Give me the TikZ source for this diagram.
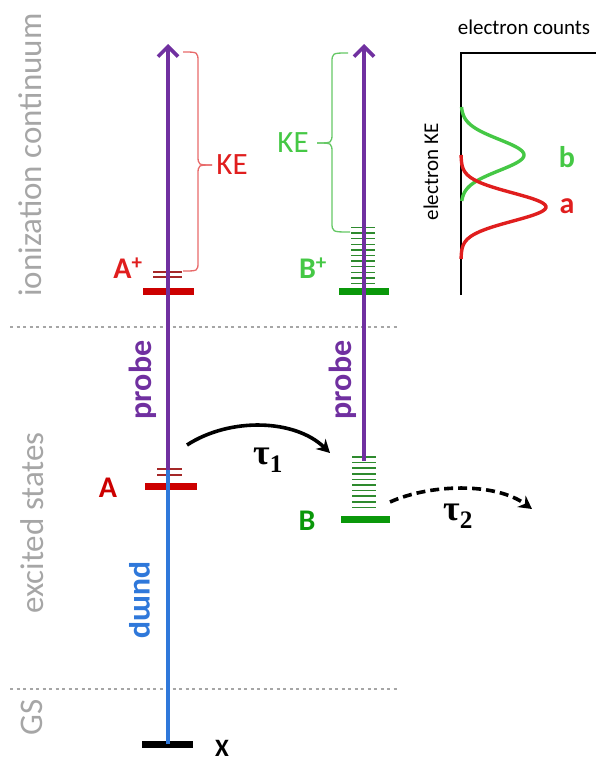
\documentclass[tikz,border=0pt]{standalone}
\usepackage{fontspec}
\setmainfont{Carlito}
\newfontfamily\taufont{Liberation Serif}
\usetikzlibrary{arrows.meta}
\definecolor{cpurple}{HTML}{7030A0}
\definecolor{cblue}{HTML}{2F78DA}
\definecolor{cred}{HTML}{E01E1E}
\definecolor{cdred}{HTML}{CC0000}
\definecolor{csub}{HTML}{A52828}
\definecolor{cbrr}{HTML}{E86A6A}
\definecolor{cgreen}{HTML}{45C845}
\definecolor{cdgreen}{HTML}{0A980A}
\definecolor{cgsub}{HTML}{2E8A2E}
\definecolor{cbrg}{HTML}{66C866}
\definecolor{cgray}{HTML}{A6A6A6}
\newcommand\myfs[1]{\fontsize{#1}{#1}\selectfont}
\begin{document}
\begin{tikzpicture}[x=1pt,y=-1pt,
  lvl/.style={line width=7pt},
  sublvl/.style={line width=1.5pt},
  probearrow/.style={cpurple,line width=3.6pt,-{Straight Barb[length=10pt,width=20pt,line width=3.6pt]}},
  pumpline/.style={cblue,line width=3.2pt},
  sidelabel/.style={cgray,rotate=90,font=\myfs{33}},
  beamlabel/.style={font=\myfs{32}\bfseries},
  statelabel/.style={font=\myfs{30}\bfseries},
  sep/.style={cgray,line width=2.8pt,dash pattern=on 3pt off 3.5pt},
  bracket/.style={line width=1.3pt},
  decay/.style={black,line width=3.6pt,-{Stealth[length=13pt,width=14pt]}},
  curve/.style={line width=3.4pt,smooth}]
\useasboundingbox (0,0) rectangle (595,763);
% separators
\draw[sep] (10,327) -- (400,327);
\draw[sep] (10,689) -- (400,689);
% side labels
\node[sidelabel] (ion) at (30,155) {ionization continuum};
\node[sidelabel] (exc) at (32,523) {excited states};
\node[sidelabel] (gs) at (32,717) {GS};
% coordinates
\coordinate (Xl) at (142,744); \coordinate (Xr) at (193,744);
\coordinate (Al) at (145,486); \coordinate (Ar) at (197,486);
\coordinate (Apl) at (143,291); \coordinate (Apr) at (194,291);
\coordinate (Bl) at (341,519); \coordinate (Br) at (390,519);
\coordinate (Bpl) at (339,291); \coordinate (Bpr) at (389,291);
\coordinate (Xc) at (168,744);
\coordinate (Atop) at (168,470);
\coordinate (Lend) at (168,44);
\coordinate (Btop) at (364,461);
\coordinate (Rend) at (364,44);
% levels
\draw[lvl,black] (Xl) -- (Xr);
\draw[lvl,cdred] (Al) -- (Ar);
\draw[lvl,cdred] (Apl) -- (Apr);
\draw[lvl,cdgreen] (Bl) -- (Br);
\draw[lvl,cdgreen] (Bpl) -- (Bpr);
% sublevels
\draw[sublvl,csub] (157,469) -- (182,469) (157,475) -- (182,475);
\draw[sublvl,csub] (153,272) -- (182,272) (153,277) -- (182,277);
\foreach \i in {0,...,9} \draw[sublvl,cgsub] (352,457+5.6*\i) -- (376,457+5.6*\i);
\foreach \i in {0,...,10} \draw[sublvl,cgsub] (351,227.5+5.6*\i) -- (375,227.5+5.6*\i);
% beams
\draw[pumpline] (Xc) -- (Atop);
\draw[probearrow] (Atop) -- (Lend);
\draw[probearrow] (Btop) -- (Rend);
% beam labels
\node[beamlabel,cpurple,rotate=90] (probeA) at (143,380) {probe};
\node[beamlabel,cpurple,rotate=90] (probeB) at (343,380) {probe};
\node[beamlabel,cblue,rotate=-90] (pump) at (140,600) {pump};
% state labels
\node[statelabel,cdred] (lA) at (108,488) {A};
\node[statelabel,cred] (lAp) at (128,268) {A\textsuperscript{+}};
\node[statelabel,cdgreen] (lB) at (307,521) {B};
\node[statelabel,cgreen] (lBp) at (313,268) {B\textsuperscript{+}};
\node[font=\myfs{25}\bfseries] (lX) at (222,748) {X};
% KE brackets
\draw[bracket,cbrr] (183,52) .. controls (198,52) .. (198,62) -- (198,155) .. controls (198,165) .. (212,165);
\draw[bracket,cbrr] (212,165) .. controls (198,165) .. (198,175) -- (198,262) .. controls (198,271) .. (183,271);
\node[font=\myfs{31},cred] (keA) at (232,165) {KE};
\draw[bracket,cbrg] (348,53) .. controls (332,53) .. (332,63) -- (332,133) .. controls (332,143) .. (317,143);
\draw[bracket,cbrg] (317,143) .. controls (332,143) .. (332,153) -- (332,222) .. controls (332,232) .. (350,232);
\node[font=\myfs{31},cgreen] (keB) at (293,143) {KE};
% decays
\coordinate (t1s) at (187,445); \coordinate (t1e) at (330,453);
\draw[decay] (t1s) .. controls (230,417) and (295,419) .. (t1e);
\node[font=\taufont\myfs{36}\bfseries] (tau1) at (268,460) {τ\textsubscript{1}};
\coordinate (t2s) at (390,502); \coordinate (t2e) at (532,509);
\draw[decay,dash pattern=on 9pt off 5pt] (t2s) .. controls (430,484) and (495,482) .. (t2e);
\node[font=\taufont\myfs{36}\bfseries] (tau2) at (458,516) {τ\textsubscript{2}};
% inset
\coordinate (ax0) at (461,295); \coordinate (ax1) at (461,53); \coordinate (ax2) at (600,53);
\draw[line width=2.8pt] (ax0) -- (ax1) -- (ax2);
\node[font=\myfs{21}] (ec) at (524,27) {electron counts};
\node[font=\myfs{21},rotate=90] (ek) at (431,172) {electron KE};
\draw[curve,cgreen] plot[domain=107:201,samples=80,variable=\t] ({461+63*exp(-((\t-155)/22)^2)},\t);
\draw[curve,cred] plot[domain=155:259,samples=80,variable=\t] ({461+85*exp(-((\t-207)/20)^2)},\t);
\node[statelabel,cgreen] (lb) at (567,157) {b};
\node[statelabel,cred] (la) at (567,206) {a};
\end{tikzpicture}
\end{document}
